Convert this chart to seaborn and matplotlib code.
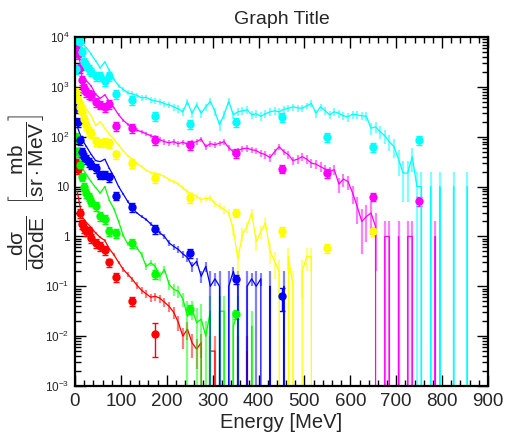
import numpy as np
import matplotlib
matplotlib.use("Agg")
import matplotlib.pyplot as plt
import matplotlib.ticker as mticker
import seaborn as sns

# Histogram lines: log10 of the value in 10 MeV bins starting at 5 MeV, None = empty bin
cyan_line = [3.95, 3.88, 3.78, 3.66, 3.52, 3.38, 3.5, 3.33, 3.15, 3.02,
             2.95, 2.88, 2.86, 2.83, 2.78, 2.79, 2.74, 2.72, 2.7, 2.66,
             2.64, 2.6, 2.56, 2.5, 2.7, 2.47, 2.64, 2.47, 2.6, 2.71,
             2.5, 2.24, 2.45, 2.71, 2.44, 2.5, 2.52, 2.54, 2.44, 2.46,
             2.41, 2.46, 2.5, 2.52, 2.5, 2.55, 2.57, 2.6, 2.58, 2.57,
             2.62, 2.67, 2.47, 2.6, 2.52, 2.44, 2.5, 2.47, 2.42, 2.4,
             2.45, 2.44, 2.42, 2.41, 2.17, 2.2, 2.1, 2.02, 1.9, 1.8,
             1.55, 1.27, 1.27, 1.6, 1.0, 1.0, None, 1.0, None, 1.0,
             None, None, 1.0, None, None, 1.0, None]
magenta_line = [3.9, 3.2, 3.12, 3.02, 2.85, 2.77, 2.84, 2.7, 2.58, 2.44,
                2.33, 2.25, 2.18, 2.13, 2.1, 2.06, 2.02, 1.98, 1.94, 1.9,
                1.88, 1.9, 1.86, 1.89, 1.85, 1.88, 1.9, 1.95, 1.8, 1.86,
                1.84, 1.87, 1.9, 1.78, 1.7, 1.72, 1.76, 1.77, 1.74, 1.72,
                1.67, 1.64, 1.58, 1.7, 1.8, 1.7, 1.64, 1.52, 1.55, 1.6,
                1.55, 1.47, 1.45, 1.4, 1.35, 1.3, 1.34, 1.05, 1.15, 1.1,
                0.87, 0.6, 0.3, 0.4, 0.47, 0.2, None, 0.0, 0.0, None,
                0.0, None, 0.0, 0.0, None, None, None, None, 0.0, None]
yellow_line = [2.9, 2.72, 2.55, 2.43, 2.22, 2.3, 2.17, 2.05, 1.95, 1.83,
               1.72, 1.62, 1.55, 1.47, 1.4, 1.33, 1.28, 1.27, 1.24, 1.2,
               1.14, 1.1, 1.05, 0.97, 0.9, 0.85, 0.8, 0.74, 0.76, 0.77,
               0.66, 0.6, 0.54, 0.47, 0.14, -0.45, 0.05, 0.2, 0.47, -0.1,
               0.1, 0.27, -0.3, -0.5, -0.7, None, -0.4, -1.0, None, -0.7,
               -0.4, -0.4, None]
blue_line = [2.2, 1.95, 1.8, 1.65, 1.52, 1.5, 1.55, 1.36, 1.2, 1.0,
             0.85, 0.7, 0.57, 0.47, 0.4, 0.34, 0.25, 0.17, 0.07, 0.0,
             -0.13, -0.2, -0.26, -0.35, -0.42, -0.6, -0.5, -0.8, -0.6, -1.0,
             -0.85, -1.0, None, -1.0, -0.7, -1.0, None, -1.0, -0.85, -1.0,
             -0.85, None, -1.0, None, None, -1.0, None]
green_line = [1.75, 1.38, 1.24, 1.1, 0.98, 0.87, 1.0, 0.72, 0.55, 0.3,
              0.02, -0.15, -0.12, -0.23, -0.36, -0.6, -0.53, -0.6, -0.8, -0.66,
              -0.96, -1.06, -1.1, -1.25, -1.6, -1.45, -1.73, -1.66, -2.0, -1.5,
              None, -1.5, -1.5, None, -1.8, -1.5, None, None, -1.8, None]
red_line = [0.9, 0.4, 0.28, 0.18, 0.07, -0.02, -0.08, -0.25, -0.37, -0.52,
            -0.66, -0.76, -0.86, -0.98, -1.08, -1.15, -1.22, -1.2, -1.24, -1.32,
            -1.4, -1.52, -1.72, -2.0, -1.86, -2.13, -2.26, -2.13, None, -2.3,
            -2.3, None, None, None, None, -2.3, None, -2.3, None]

# weight of one MC event (sets the statistical error bars) and the level of a lone single-event bin
event_weight = [10, 1.2, 0.1, 0.012, 0.006, 0.002]
single_level = [10, 1, 0.1, 0.1, 0.0316, 0.005]

# Measured points
pts_E = [3, 6, 10, 15, 20, 25, 30, 35, 45, 55, 65, 75, 90, 125, 175, 250, 350, 450, 550, 650, 750]
cyan_pts = [2300, 8500, 7900, 5100, 3200, 2750, 2250, 2030, 1660, 1660, 1290, 1660, 710, 535, 255,
            180, 200, 250, 100, 63, 87]
magenta_pts = [7000, 4500, 2350, 1380, 930, 800, 720, 690, 500, 440, 400, 460, 166, 148, 87,
               69, 47, 23, 18.6, 6.3, 5.2]
yellow_pts = [800, 550, 400, 316, 224, 174, 132, 120, 83, 76, 78, 74, 44, 30, 15,
              5.9, 3.0, 1.26, 0.58, 1.26]
blue_pts = [400, 200, 87, 50, 40, 35, 31, 27.5, 23.4, 17.4, 17.4, 15.5, 6.6, 3.9, 1.41,
            0.47, 0.138, 0.063]
green_pts = [100, 50, 27.5, 15.8, 10, 7.5, 6.3, 5.0, 4.0, 2.6, 2.2, 1.3, 1.15, 0.74, 0.174,
             0.035, 0.0275]
red_pts = [30, 22, 2.95, 1.74, 1.48, 1.3, 1.26, 0.93, 0.74, 0.65, 0.54, 0.3, 0.155, 0.051, 0.011]

# relative errors of the points
cyan_rel = [0.2] * 21
magenta_rel = [0.2] * 21
yellow_rel = [0.2] * 20
blue_rel = [0.2] * 17 + [0.5]
green_rel = [0.2] * 17
red_rel = [0.2] * 14 + [0.65]

colors = ["#00ffff", "#ff00ff", "#ffff00", "#0000ff", "#00ff00", "#ff0000"]

sns.set_style("ticks")
plt.rcParams["font.family"] = ["Liberation Sans", "DejaVu Sans"]
plt.rcParams["mathtext.fontset"] = "custom"
plt.rcParams["mathtext.rm"] = "Liberation Sans"
plt.rcParams["mathtext.it"] = "Liberation Sans"
plt.rcParams["mathtext.bf"] = "Liberation Sans:bold"

fig = plt.figure(figsize=(5.09, 4.37), dpi=100)
ax = fig.add_axes([75 / 509, 51 / 437, 413 / 509, 349 / 437])

lines = [cyan_line, magenta_line, yellow_line, blue_line, green_line, red_line]
points = [cyan_pts, magenta_pts, yellow_pts, blue_pts, green_pts, red_pts]
rels = [cyan_rel, magenta_rel, yellow_rel, blue_rel, green_rel, red_rel]

# draw from the bottom series up so cyan ends on top
for i in range(5, -1, -1):
    vals = np.array([np.nan if v is None else v for v in lines[i]], dtype=float)
    e = 5 + 10 * np.arange(len(vals))
    y = np.where(np.isnan(vals), 0.0, 10.0 ** vals)
    sns.lineplot(x=e, y=y, ax=ax, color=colors[i], lw=0.9, estimator=None, sort=False)
    m = y > 0
    err = np.sqrt(y[m] * event_weight[i])
    err = np.where(y[m] <= single_level[i] * 1.01, y[m], err)
    ax.vlines(e[m], y[m] - err, y[m] + err, color=colors[i], alpha=0.5, lw=1.6)

    pv = np.array(points[i])
    pe = np.array(pts_E[:len(pv)])
    ax.errorbar(pe, pv, yerr=np.array(rels[i]) * pv, fmt="o", ms=5, color=colors[i],
                mec=colors[i], elinewidth=1.0, capsize=2.2, capthick=1.0)

ax.set_yscale("log")
ax.set_xlim(0, 900)
ax.set_ylim(1e-3, 1e4)

ax.xaxis.set_major_locator(mticker.MultipleLocator(100))
ax.xaxis.set_minor_locator(mticker.MultipleLocator(20))
ax.yaxis.set_minor_locator(mticker.LogLocator(base=10, subs=np.arange(2, 10), numticks=20))
ax.set_yticks([1e-3, 1e-2, 1e-1, 1, 10, 1e2, 1e3, 1e4])
ax.set_yticklabels([r"$10^{-3}$", r"$10^{-2}$", r"$10^{-1}$", "1", "10",
                    r"$10^{2}$", r"$10^{3}$", r"$10^{4}$"])
ax.yaxis.set_minor_formatter(mticker.NullFormatter())

ax.tick_params(which="both", direction="in", top=True, right=True, width=1.0, color="black")
ax.tick_params(which="major", length=8)
ax.tick_params(which="minor", length=4)
ax.tick_params(axis="x", labelsize=13.5, pad=5)
ax.tick_params(axis="y", labelsize=8.5, pad=4)
for s in ax.spines.values():
    s.set_linewidth(1.6)
    s.set_color("black")

ax.set_title("Graph Title", fontsize=14, pad=9)
ax.set_xlabel("Energy [MeV]", fontsize=14.5, labelpad=2)
ax.set_ylabel(r"$\dfrac{d\sigma}{d\Omega dE}\;\;\left[\dfrac{mb}{sr\cdot MeV}\right]$",
              fontsize=15, va="center")
ax.yaxis.set_label_coords(-0.118, 0.556)

fig.savefig("out.png", dpi=100)
